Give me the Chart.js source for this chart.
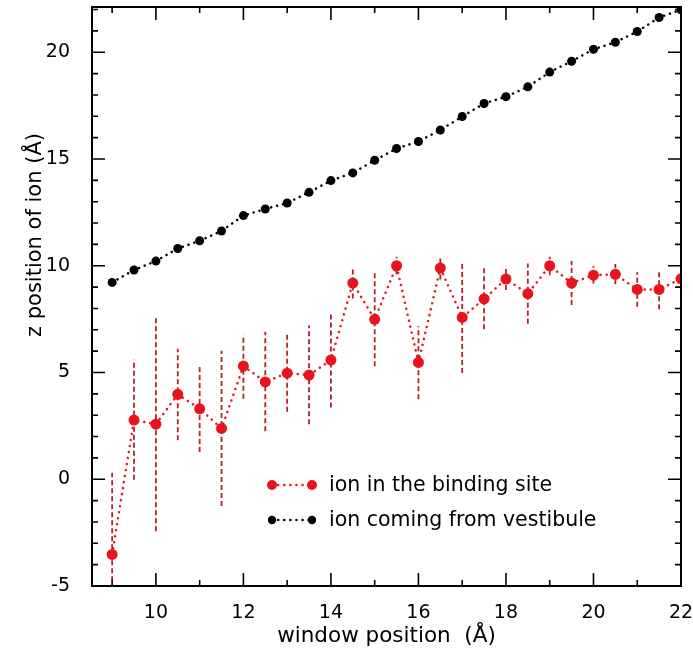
<!DOCTYPE html>
<html lang="en">
<head>
  <meta charset="UTF-8">
  <title>z position of ion vs window position</title>
  <script src="https://cdn.jsdelivr.net/npm/chart.js"></script>
  <style>
    body { margin: 0; background: #fff; }
  </style>
</head>
<body>
  <canvas id="ionChart" width="693" height="657"></canvas>
  <script>
    // window positions (Å)
    const windowPos = [9, 9.5, 10, 10.5, 11, 11.5, 12, 12.5, 13, 13.5, 14, 14.5, 15, 15.5,
                       16, 16.5, 17, 17.5, 18, 18.5, 19, 19.5, 20, 20.5, 21, 21.5, 22];

    // ion in the binding site: mean z and error bar ends
    const bindingSite = [-3.52, 2.77, 2.58, 3.98, 3.30, 2.38, 5.30, 4.56, 4.97, 4.88, 5.58, 9.19, 7.49, 10.0,
                         5.47, 9.89, 7.58, 8.45, 9.38, 8.69, 10.0, 9.19, 9.56, 9.60, 8.89, 8.89, 9.39];
    const bindingLow  = [-7.4, -0.02, -2.44, 1.83, 1.28, -1.25, 3.77, 2.25, 3.16, 2.58, 3.36, 8.47, 5.29, 9.6,
                         3.75, 9.36, 4.98, 7.03, 8.86, 7.28, 9.56, 8.16, 9.17, 9.13, 8.08, 7.96, 9.0];
    const bindingHigh = [0.31, 5.61, 7.61, 6.11, 5.31, 6.02, 6.78, 6.91, 6.81, 7.20, 7.81, 9.92, 9.70, 10.42,
                         7.17, 10.42, 10.22, 9.91, 9.91, 10.11, 10.42, 10.22, 10.0, 10.08, 9.70, 9.84, 9.83];

    // ion coming from vestibule
    const vestibule = [9.22, 9.80, 10.22, 10.81, 11.17, 11.63, 12.35, 12.66, 12.94, 13.44, 13.99, 14.35, 14.94, 15.49,
                       15.82, 16.36, 16.99, 17.60, 17.92, 18.38, 19.07, 19.58, 20.14, 20.47, 20.97, 21.63, 21.99];

    const xTickLabels = [10, 12, 14, 16, 18, 20, 22];
    const yTickLabels = [-5, 0, 5, 10, 15, 20];

    const RED = '#e8141c';
    const ERR = '#b51f27';
    const FONT = 'DejaVu Sans';

    const errorBars = windowPos.map((x, i) => ({
      label: 'err',
      data: [{ x: x, y: bindingLow[i] }, { x: x, y: bindingHigh[i] }],
      borderColor: ERR,
      borderWidth: 1.8,
      borderDash: [5, 3],
      pointRadius: 0,
      order: 3
    }));

    // frame with inward ticks, legend inside the plot, y title
    const frameAndLegend = {
      id: 'frameAndLegend',
      afterDatasetsDraw(chart) {
        const { ctx, chartArea: a, scales: { x, y } } = chart;
        ctx.save();
        ctx.strokeStyle = '#000';
        ctx.lineWidth = 2;
        ctx.strokeRect(a.left, a.top, a.right - a.left, a.bottom - a.top);

        ctx.lineWidth = 1.6;
        ctx.beginPath();
        for (let v = 9; v <= 22; v++) {
          const px = x.getPixelForValue(v);
          const len = v % 2 === 0 ? 13 : 6;
          ctx.moveTo(px, a.bottom); ctx.lineTo(px, a.bottom - len);
          ctx.moveTo(px, a.top); ctx.lineTo(px, a.top + len);
        }
        for (let v = -5; v <= 22; v++) {
          const py = y.getPixelForValue(v);
          const len = v % 5 === 0 ? 13 : 6;
          ctx.moveTo(a.left, py); ctx.lineTo(a.left + len, py);
          ctx.moveTo(a.right, py); ctx.lineTo(a.right - len, py);
        }
        ctx.stroke();

        // legend
        const rows = [
          { text: 'ion in the binding site', color: RED, r: 5, y: 485 },
          { text: 'ion coming from vestibule', color: '#000', r: 4.2, y: 520 }
        ];
        rows.forEach(row => {
          ctx.strokeStyle = row.color;
          ctx.fillStyle = row.color;
          ctx.lineWidth = 2.5;
          ctx.lineCap = 'round';
          ctx.setLineDash([0.1, 6]);
          ctx.beginPath();
          ctx.moveTo(272, row.y); ctx.lineTo(312, row.y);
          ctx.stroke();
          ctx.setLineDash([]);
          [272, 312].forEach(cx => {
            ctx.beginPath();
            ctx.arc(cx, row.y, row.r, 0, Math.PI * 2);
            ctx.fill();
          });
          ctx.fillStyle = '#000';
          ctx.font = '20.5px "' + FONT + '"';
          ctx.textAlign = 'left';
          ctx.textBaseline = 'middle';
          ctx.fillText(row.text, 329, row.y + 1);
        });

        // y axis title (sits above centre in the original)
        ctx.translate(36, 235);
        ctx.rotate(-Math.PI / 2);
        ctx.fillStyle = '#000';
        ctx.font = '21px "' + FONT + '"';
        ctx.textAlign = 'center';
        ctx.textBaseline = 'middle';
        ctx.fillText('z position of ion (Å)', 0, 0);
        ctx.restore();
      }
    };

    const ctx = document.getElementById('ionChart').getContext('2d');
    new Chart(ctx, {
      type: 'line',
      data: {
        datasets: [
          {
            label: 'ion in the binding site',
            data: windowPos.map((x, i) => ({ x: x, y: bindingSite[i] })),
            borderColor: RED,
            backgroundColor: RED,
            borderWidth: 2.5,
            borderDash: [0.1, 6],
            borderCapStyle: 'round',
            pointRadius: 5.5,
            pointBorderWidth: 0,
            order: 1
          },
          {
            label: 'ion coming from vestibule',
            data: windowPos.map((x, i) => ({ x: x, y: vestibule[i] })),
            borderColor: '#000',
            backgroundColor: '#000',
            borderWidth: 2.5,
            borderDash: [0.1, 6],
            borderCapStyle: 'round',
            pointRadius: 4.5,
            pointBorderWidth: 0,
            order: 2
          },
          ...errorBars
        ]
      },
      options: {
        responsive: false,
        animation: false,
        layout: { padding: { top: 7, right: 12, left: 0, bottom: 0 } },
        plugins: {
          legend: { display: false },
          tooltip: { enabled: false }
        },
        scales: {
          x: {
            type: 'linear',
            min: 8.54,
            max: 22,
            grid: { display: false },
            border: { display: false },
            afterBuildTicks: s => { s.ticks = xTickLabels.map(v => ({ value: v })); },
            afterFit: s => { s.height = 71; s.paddingLeft = 0; s.paddingRight = 0; },
            ticks: { color: '#000', padding: 8, maxRotation: 0, font: { family: FONT, size: 19 } },
            title: {
              display: true,
              text: 'window position  (Å)',
              color: '#000',
              padding: { top: 2, bottom: 8 },
              font: { family: FONT, size: 21.5 }
            }
          },
          y: {
            min: -5,
            max: 22.12,
            grid: { display: false },
            border: { display: false },
            afterBuildTicks: s => { s.ticks = yTickLabels.map(v => ({ value: v })); },
            afterFit: s => { s.width = 92; s.paddingTop = 0; s.paddingBottom = 0; },
            ticks: { color: '#000', padding: 14, font: { family: FONT, size: 19 } }
          }
        }
      },
      plugins: [frameAndLegend]
    });
  </script>
</body>
</html>
